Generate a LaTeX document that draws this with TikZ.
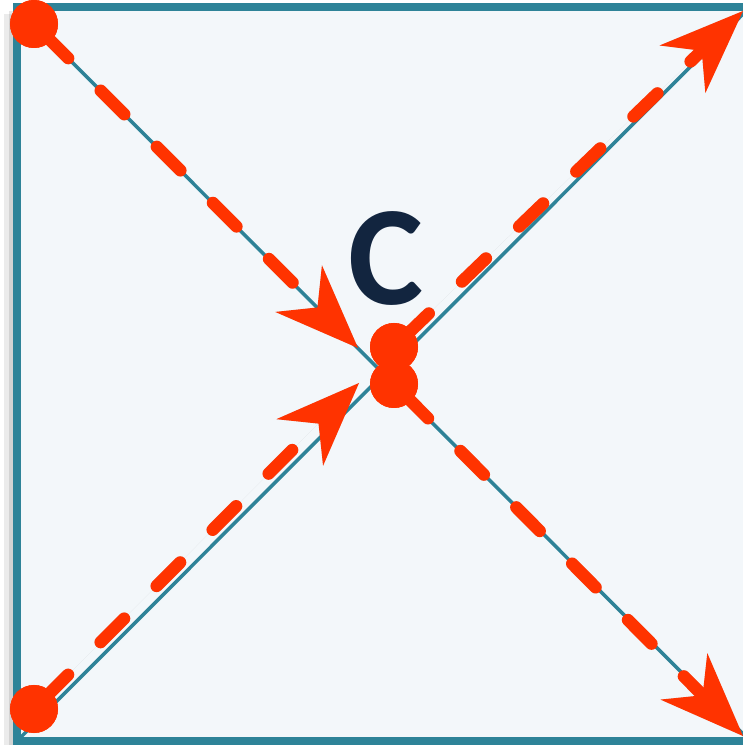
\documentclass[tikz,border=0pt]{standalone}
\usepackage{fontspec}
\setmainfont{Carlito}
\usetikzlibrary{arrows.meta,positioning}
\definecolor{frameteal}{HTML}{2E8398}
\definecolor{panelfill}{HTML}{F3F7FA}
\definecolor{flowred}{HTML}{FF3300}
\definecolor{labelnavy}{HTML}{12253F}

\begin{document}
\begin{tikzpicture}[
    x=0.03cm, y=0.03cm,
    flow/.style={
        draw=flowred,
        line width=10.5pt,
        line cap=round,
        dash pattern=on 1.0cm off 1.38cm,
        dash phase=1.93cm,
        -{Stealth[length=2.52cm, width=1.98cm, inset=0.8cm, line width=0pt]}
    },
    flowshade/.style={
        flow,
        draw=black, fill=black, opacity=0.12,
        -{Stealth[length=2.52cm, width=1.98cm, inset=0.8cm, line width=0pt, fill=black]}
    },
    dot/.style={
        circle,
        fill=flowred,
        inner sep=0pt,
        minimum size=1.44cm
    },
    diag/.style={
        draw=frameteal,
        line width=3pt
    }
]

\useasboundingbox (0,0) rectangle (742,745);

% Frame with its shadow
\fill[black, opacity=0.10] (9,-3) rectangle (742,734);
\fill[black, opacity=0.08] (4,-6) rectangle (742,731);
\draw[fill=panelfill, draw=frameteal, line width=6.5pt] (17,4) rectangle (750,738);

% Diagonals
\coordinate (nw) at (17,738);
\coordinate (ne) at (750,738);
\coordinate (sw) at (17,4);
\coordinate (se) at (750,4);
\draw[diag] (nw) -- (se);
\draw[diag] (sw) -- (ne);

% Label
\node[text=labelnavy, font=\bfseries\fontsize{121}{121}\selectfont] (c) at (386,486) {C};

% Nodes
\node[dot] (start1) at (34,721) {};
\node[dot] (start2) at (34,36) {};
\node[dot] (mid1) at (394,398) {};
\node[dot] (mid2) at (394,361) {};
\coordinate (end1) at (358,397);
\coordinate (end2) at (359,362);
\coordinate (end3) at (743,734);
\coordinate (end4) at (743,9);

% Shadows of the flows
\begin{scope}[shift={(-4,-5)}]
\draw[flowshade] (start1.center) -- (end1);
\draw[flowshade] (start2.center) -- (end2);
\draw[flowshade] (mid1.center) -- (end3);
\draw[flowshade] (mid2.center) -- (end4);
\end{scope}

% Flows
\draw[flow] (start1.center) -- (end1);
\draw[flow] (start2.center) -- (end2);
\draw[flow] (mid1.center) -- (end3);
\draw[flow] (mid2.center) -- (end4);

% Dots on top
\node[dot] at (start1) {};
\node[dot] at (start2) {};
\node[dot] at (mid1) {};
\node[dot] at (mid2) {};

\end{tikzpicture}
\end{document}
